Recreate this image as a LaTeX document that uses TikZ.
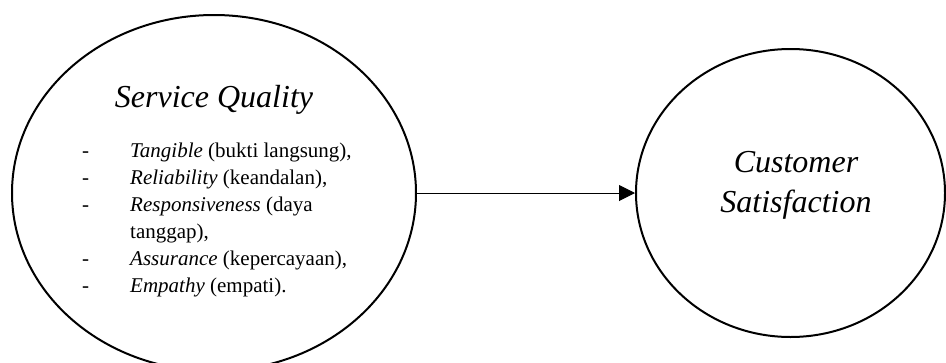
\documentclass[tikz,border=0pt]{standalone}
\usepackage{fontspec}
\setmainfont{Liberation Serif}
\usetikzlibrary{shapes.geometric,arrows.meta}
\begin{document}
\begin{tikzpicture}[x=1pt,y=-1pt,
  bubble/.style={draw, ellipse, line width=2pt, inner sep=0pt},
  title/.style={font=\fontsize{32}{40}\selectfont\itshape, anchor=base, inner sep=0pt},
  item/.style={font=\fontsize{21}{26}\selectfont, anchor=base west, inner sep=0pt},
  link/.style={-{Triangle[length=16pt,width=16pt]}, line width=1pt}]
\useasboundingbox (0,0) rectangle (946,362);
\node[bubble, minimum width=404pt, minimum height=356pt] (sq) at (214,193) {};
\node[bubble, minimum width=309pt, minimum height=288pt] (cs) at (790.5,193) {};
\node[title] (t1) at (214,107) {Service Quality};
\node[title] (t2) at (796,172) {Customer};
\node[title] (t3) at (796,212) {Satisfaction};
\node[item] (d1) at (82,157) {-};
\node[item] (d2) at (82,184) {-};
\node[item] (d3) at (82,211) {-};
\node[item] (d5) at (82,265) {-};
\node[item] (d6) at (82,292) {-};
\node[item] (i1) at (130,157) {\textit{Tangible} (bukti langsung),};
\node[item] (i2) at (130,184) {\textit{Reliability} (keandalan),};
\node[item] (i3) at (130,211) {\textit{Responsiveness} (daya};
\node[item] (i4) at (130,238) {tanggap),};
\node[item] (i5) at (130,265) {\textit{Assurance} (kepercayaan),};
\node[item] (i6) at (130,292) {\textit{Empathy} (empati).};
\draw[link] (sq.east) -- (cs.west);
\end{tikzpicture}
\end{document}
